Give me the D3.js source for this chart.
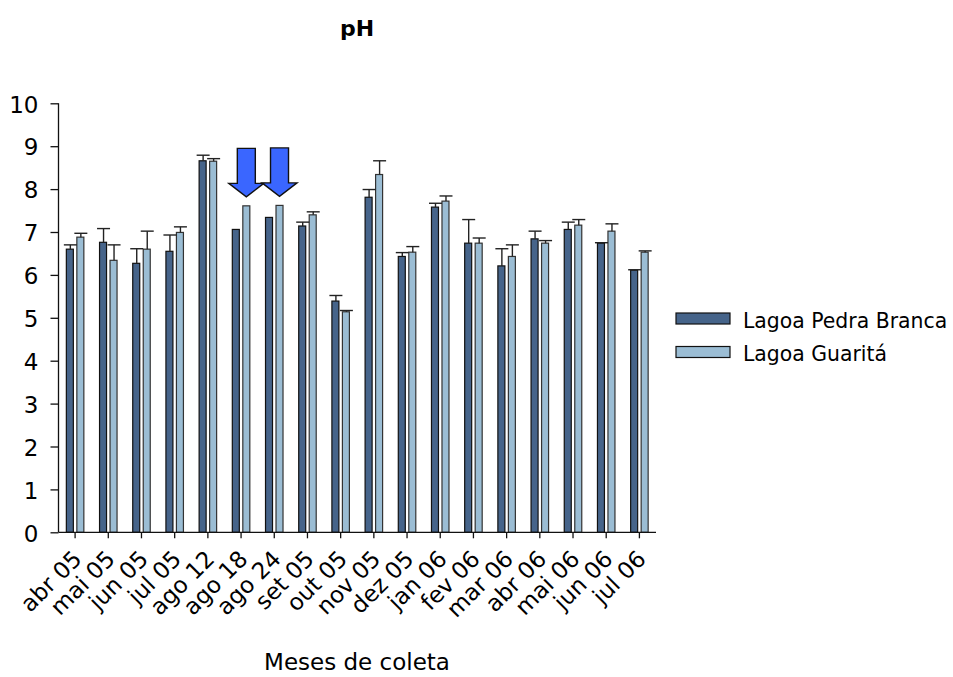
<!DOCTYPE html>
<html>
<head>
<meta charset="utf-8">
<script src="https://cdn.jsdelivr.net/npm/d3@7"></script>
<style>
  html, body { margin: 0; padding: 0; background: #fff; }
  svg { display: block; font-family: "DejaVu Sans", Verdana, sans-serif; }
</style>
</head>
<body>
<svg id="chart" width="953" height="677"></svg>
<script>
// Sampling months
const categories = ["abr 05", "mai 05", "jun 05", "jul 05", "ago 12", "ago 18", "ago 24",
  "set 05", "out 05", "nov 05", "dez 05", "jan 06", "fev 06", "mar 06", "abr 06",
  "mai 06", "jun 06", "jul 06"];

const seriesNames = ["Lagoa Pedra Branca", "Lagoa Guaritá"];

// Mean pH per month
const pedraBranca = [6.60, 6.76, 6.27, 6.55, 8.66, 7.06, 7.34, 7.14, 5.39, 7.81, 6.43,
  7.58, 6.74, 6.21, 6.84, 7.06, 6.74, 6.11];
const guarita = [6.88, 6.34, 6.60, 6.99, 8.65, 7.61, 7.62, 7.40, 5.14, 8.34, 6.53,
  7.72, 6.74, 6.43, 6.74, 7.16, 7.02, 6.53];

// Standard deviation (upper error bar); null = single sample
const pedraBrancaErr = [0.10, 0.32, 0.34, 0.38, 0.13, null, null, 0.09, 0.13, 0.18, 0.09,
  0.09, 0.55, 0.40, 0.18, 0.17, 0.01, 0.01];
const guaritaErr = [0.09, 0.36, 0.42, 0.13, 0.06, null, null, 0.07, 0.03, 0.32, 0.13,
  0.12, 0.12, 0.27, 0.06, 0.13, 0.17, 0.03];

const yTicks = [0, 1, 2, 3, 4, 5, 6, 7, 8, 9, 10];

// Single-sample campaigns highlighted with arrows (Guaritá bars)
const highlighted = ["ago 18", "ago 24"];

const colors = ["#46648a", "#9bbdd4"];

const svg = d3.select("#chart");
const plot = { left: 58.5, right: 656, top: 103.3, bottom: 532.3 };

const x = d3.scaleBand().domain(categories).range([plot.left, plot.right]).padding(0);
const bw = x.bandwidth();
const xs = d3.scaleBand().domain(seriesNames)
  .range([bw / 2 - 8.75, bw / 2 + 8.75]).paddingInner(1 / 3).paddingOuter(0);
const y = d3.scaleLinear().domain([0, 10]).range([plot.bottom, plot.top]);

const rows = categories.map((c, i) => ({
  cat: c,
  vals: [
    { s: seriesNames[0], v: pedraBranca[i], e: pedraBrancaErr[i], k: 0 },
    { s: seriesNames[1], v: guarita[i], e: guaritaErr[i], k: 1 }
  ]
}));

// Bars
const groups = svg.append("g").selectAll("g").data(rows).join("g")
  .attr("transform", d => `translate(${x(d.cat)},0)`);

groups.selectAll("rect").data(d => d.vals).join("rect")
  .attr("x", d => xs(d.s))
  .attr("width", xs.bandwidth())
  .attr("y", d => y(d.v))
  .attr("height", d => y(0) - y(d.v))
  .attr("fill", d => colors[d.k])
  .attr("stroke", d => d.k === 0 ? "#111" : "#333")
  .attr("stroke-width", 1.2);

// Upper error bars
const eb = groups.selectAll("g.err").data(d => d.vals.filter(v => v.e != null)).join("g")
  .attr("class", "err")
  .attr("stroke", "#222").attr("stroke-width", 1.4);
eb.append("line")
  .attr("x1", d => xs(d.s) + xs.bandwidth() / 2 + 0.5)
  .attr("x2", d => xs(d.s) + xs.bandwidth() / 2 + 0.5)
  .attr("y1", d => y(d.v))
  .attr("y2", d => y(d.v + d.e));
eb.append("line")
  .attr("x1", d => xs(d.s) + xs.bandwidth() / 2 - 6)
  .attr("x2", d => xs(d.s) + xs.bandwidth() / 2 + 7)
  .attr("y1", d => y(d.v + d.e))
  .attr("y2", d => y(d.v + d.e));

// Axes
const yAxis = svg.append("g")
  .attr("transform", `translate(${plot.left},0)`)
  .call(d3.axisLeft(y).tickValues(yTicks).tickSize(8).tickPadding(12).tickFormat(d3.format("d")));
yAxis.select(".domain").attr("d", `M0,${plot.top}V${plot.bottom}`).attr("stroke", "#111").attr("stroke-width", 1.3);
yAxis.selectAll(".tick line").attr("stroke", "#111").attr("stroke-width", 1.3);
yAxis.selectAll(".tick text").attr("font-size", 23).attr("fill", "#000")
  .attr("font-family", "DejaVu Sans, sans-serif")
  .attr("dy", "0.38em");

const xAxis = svg.append("g")
  .attr("transform", `translate(0,${plot.bottom})`)
  .call(d3.axisBottom(x).tickSize(6).tickPadding(4));
xAxis.select(".domain").attr("d", `M${plot.left},0H${plot.right}`).attr("stroke", "#111").attr("stroke-width", 1.3);
xAxis.selectAll(".tick line").attr("stroke", "#111").attr("stroke-width", 1.3);
xAxis.selectAll(".tick text")
  .attr("font-size", 23).attr("fill", "#000")
  .attr("font-family", "DejaVu Sans, sans-serif")
  .attr("text-anchor", "end")
  .attr("y", 0)
  .attr("dy", "0")
  .attr("transform", "translate(8,28) rotate(-45)");

// Arrows over the single-sample Guaritá bars
const arrowPath = (cx, tipY) => {
  const shaftHalf = 9, headHalf = 17.5, headLen = 13.5, total = 48.5;
  const top = tipY - total, base = tipY - headLen;
  return `M${cx - shaftHalf},${top}H${cx + shaftHalf}V${base}H${cx + headHalf}` +
    `L${cx},${tipY}L${cx - headHalf},${base}H${cx - shaftHalf}Z`;
};
svg.append("g").selectAll("path").data(highlighted).join("path")
  .attr("d", c => {
    const i = categories.indexOf(c);
    const cx = x(c) + xs(seriesNames[1]) + xs.bandwidth() / 2;
    return arrowPath(cx, y(guarita[i]) - 9);
  })
  .attr("fill", "#3a66ff")
  .attr("stroke", "#111")
  .attr("stroke-width", 1.4)
  .attr("stroke-linejoin", "miter");

// Title
svg.append("text")
  .attr("x", 357).attr("y", 36)
  .attr("text-anchor", "middle")
  .attr("font-size", 22).attr("font-weight", "bold")
  .text("pH");

// Axis title
svg.append("text")
  .attr("x", 357).attr("y", 670)
  .attr("text-anchor", "middle")
  .attr("font-size", 23)
  .text("Meses de coleta");

// Legend
const legend = svg.append("g").attr("transform", "translate(676,313)");
const li = legend.selectAll("g").data(seriesNames).join("g")
  .attr("transform", (d, i) => `translate(0,${i * 33.5})`);
li.append("rect")
  .attr("width", 54).attr("height", 11)
  .attr("fill", (d, i) => colors[i])
  .attr("stroke", "#111").attr("stroke-width", 1.2);
li.append("text")
  .attr("x", 67).attr("y", 14.5)
  .attr("font-size", 20.4)
  .text(d => d);
</script>
</body>
</html>
